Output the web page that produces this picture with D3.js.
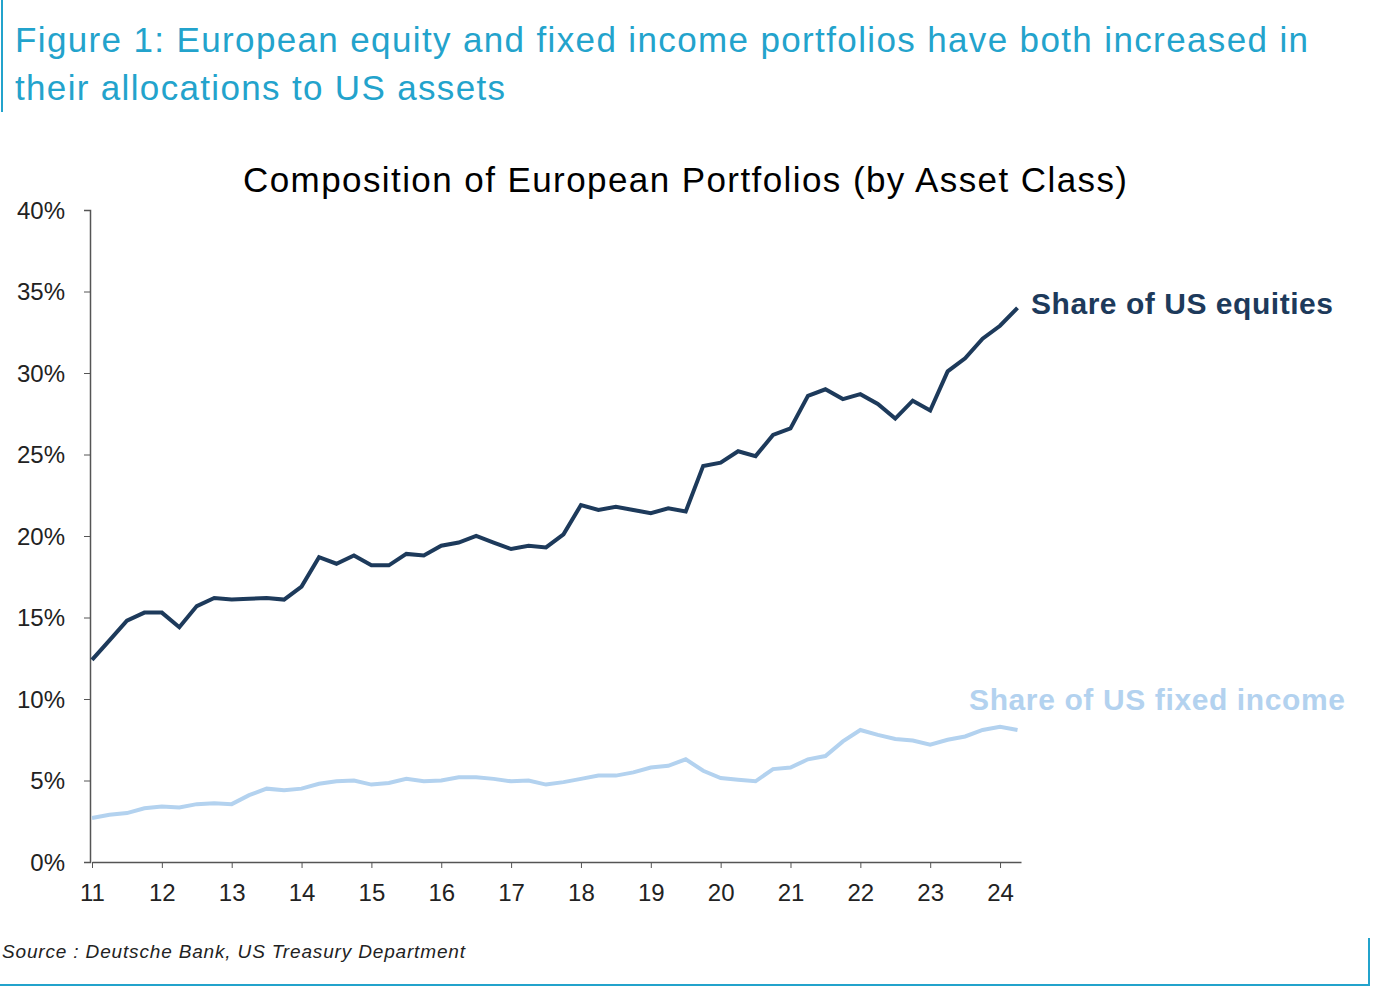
<!DOCTYPE html>
<html><head><meta charset="utf-8">
<script src="https://cdn.jsdelivr.net/npm/d3@7"></script>
<style>body{margin:0;background:#fff;font-family:"Liberation Sans",Arial,sans-serif}</style>
</head><body><svg id="c" width="1378" height="990"></svg>
<script>
const years = ["11","12","13","14","15","16","17","18","19","20","21","22","23","24"];
const yTicks = [0,5,10,15,20,25,30,35,40];
// quarterly observations from 2011 Q1
const equities = [12.4,13.6,14.8,15.3,15.3,14.4,15.7,16.2,16.1,16.15,16.2,16.1,16.9,18.7,18.3,18.8,18.2,18.2,18.9,18.8,19.4,19.6,20.0,19.6,19.2,19.4,19.3,20.1,21.9,21.6,21.8,21.6,21.4,21.7,21.5,24.3,24.5,25.2,24.9,26.2,26.6,28.6,29.0,28.4,28.7,28.1,27.2,28.3,27.7,30.1,30.9,32.1,32.9,34.0];
const fixedIncome = [2.7,2.9,3.0,3.3,3.4,3.35,3.55,3.6,3.55,4.1,4.5,4.4,4.5,4.8,4.95,5.0,4.75,4.85,5.1,4.95,5.0,5.2,5.2,5.1,4.95,5.0,4.75,4.9,5.1,5.3,5.3,5.5,5.8,5.9,6.3,5.6,5.15,5.05,4.95,5.7,5.8,6.3,6.5,7.4,8.1,7.8,7.55,7.45,7.2,7.5,7.7,8.1,8.3,8.1];

const svg = d3.select("#c");
const teal = "#23a3cc";

// frame lines
svg.append("line").attr("x1",2).attr("x2",2).attr("y1",0).attr("y2",112).attr("stroke",teal).attr("stroke-width",2);
svg.append("line").attr("x1",0).attr("x2",1370).attr("y1",985).attr("y2",985).attr("stroke",teal).attr("stroke-width",2);
svg.append("line").attr("x1",1369).attr("x2",1369).attr("y1",938).attr("y2",985).attr("stroke",teal).attr("stroke-width",2);

svg.append("text").attr("x",15).attr("y",52).attr("fill",teal).style("font-size","35px").attr("textLength",1293)
  .text("Figure 1: European equity and fixed income portfolios have both increased in");
svg.append("text").attr("x",15).attr("y",100).attr("fill",teal).style("font-size","35px").attr("textLength",490)
  .text("their allocations to US assets");

svg.append("text").attr("x",243).attr("y",192).attr("fill","#000").attr("textLength",884)
  .style("font-size","35px").text("Composition of European Portfolios (by Asset Class)");

const x = d3.scaleLinear().domain([11,24.3]).range([92,1021]);
const y = d3.scaleLinear().domain([0,40]).range([862,210]);
const t = i => 11 + i/4;

const ya = svg.append("g").attr("transform","translate(90,0)")
  .call(d3.axisLeft(y).tickValues(yTicks).tickFormat(d=>d+"%").tickSize(6));
ya.select(".domain").attr("stroke","#555").attr("stroke-width",1.5);
ya.selectAll("line").attr("stroke","#555");
ya.selectAll("text").style("font-size","24px").attr("fill","#222").attr("x",-25).attr("dy","0.35em");

const xa = svg.append("g").attr("transform","translate(0,862)")
  .call(d3.axisBottom(x).tickValues(years.map(Number)).tickFormat(d=>d).tickSize(6).tickSizeOuter(0));
xa.select(".domain").attr("stroke","#555").attr("stroke-width",1.5);
xa.selectAll("line").attr("stroke","#555");
xa.selectAll("text").style("font-size","24px").attr("fill","#222").attr("y",22);

const line = d3.line().x((d,i)=>x(t(i))).y(d=>y(d));
svg.append("path").datum(fixedIncome).attr("d",line).attr("fill","none").attr("stroke","#b3d2ef").attr("stroke-width",4);
svg.append("path").datum(equities).attr("d",line).attr("fill","none").attr("stroke","#1d3a5b").attr("stroke-width",4);

svg.append("text").attr("x",1031).attr("y",314).attr("fill","#1d3a5b").style("font-size","30px").style("font-weight","bold")
  .attr("textLength",302).text("Share of US equities");
svg.append("text").attr("x",969).attr("y",710).attr("fill","#b3d2ef").style("font-size","30px").style("font-weight","bold")
  .attr("textLength",376).text("Share of US fixed income");

svg.append("text").attr("x",2).attr("y",958).attr("fill","#222").style("font-size","19px").style("font-style","italic")
  .attr("textLength",463).text("Source : Deutsche Bank, US Treasury Department");
</script></body></html>
